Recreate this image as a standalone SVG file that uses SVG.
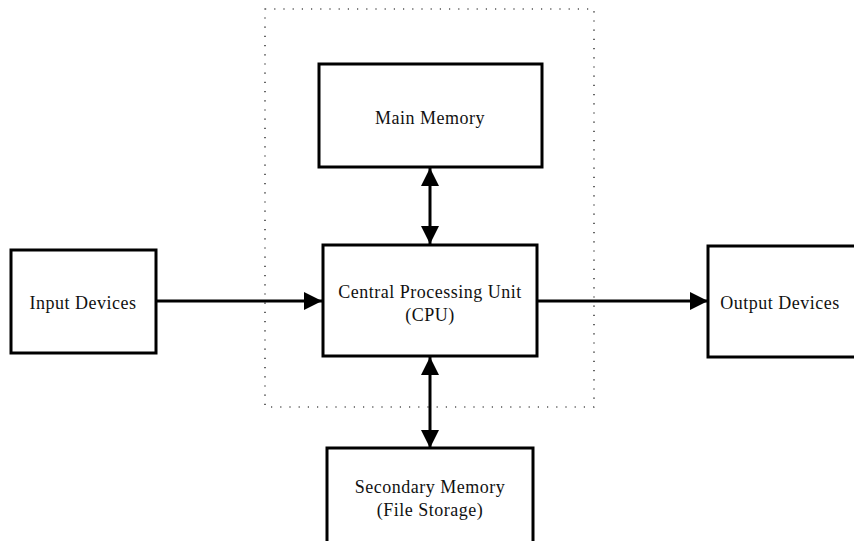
<svg xmlns="http://www.w3.org/2000/svg" width="854" height="541" viewBox="0 0 854 541">
<defs>
<style>
.box{fill:#fff;stroke:#000;stroke-width:3}
.lbl{font-family:"Liberation Serif",serif;font-size:18px;letter-spacing:0.5px;text-anchor:middle;fill:#111}
.con{stroke:#000;stroke-width:3;fill:none}
</style>
<marker id="ah" viewBox="0 0 10 10" refX="10" refY="5" markerWidth="20" markerHeight="18" markerUnits="userSpaceOnUse" orient="auto-start-reverse">
<path d="M0,0 L10,5 L0,10 Z" fill="#000"/>
</marker>
</defs>
<rect width="854" height="541" fill="#fff"/>
<rect id="boundary" x="265" y="9" width="329" height="398" fill="none" stroke="#000" stroke-width="1.2" stroke-dasharray="1.2 8"/>
<g id="connectors">
<line class="con" x1="430" y1="168" x2="430" y2="244" marker-start="url(#ah)" marker-end="url(#ah)"/>
<line class="con" x1="430" y1="357" x2="430" y2="448" marker-start="url(#ah)" marker-end="url(#ah)"/>
<line class="con" x1="156" y1="301" x2="322" y2="301" marker-end="url(#ah)"/>
<line class="con" x1="537" y1="301" x2="708" y2="301" marker-end="url(#ah)"/>
</g>
<g id="main-memory">
<rect class="box" x="319" y="64" width="223" height="103"/>
<text class="lbl" x="430" y="124">Main Memory</text>
</g>
<g id="cpu">
<rect class="box" x="323" y="245" width="214" height="111"/>
<text class="lbl" x="430" y="298">Central Processing Unit</text>
<text class="lbl" x="430" y="321">(CPU)</text>
</g>
<g id="input-devices">
<rect class="box" x="11" y="250" width="145" height="103"/>
<text class="lbl" x="83" y="309">Input Devices</text>
</g>
<g id="output-devices">
<rect class="box" x="708" y="246" width="160" height="111"/>
<text class="lbl" x="780" y="309">Output Devices</text>
</g>
<g id="secondary-memory">
<rect class="box" x="327" y="448" width="206" height="110"/>
<text class="lbl" x="430" y="493">Secondary Memory</text>
<text class="lbl" x="430" y="516">(File Storage)</text>
</g>
</svg>
